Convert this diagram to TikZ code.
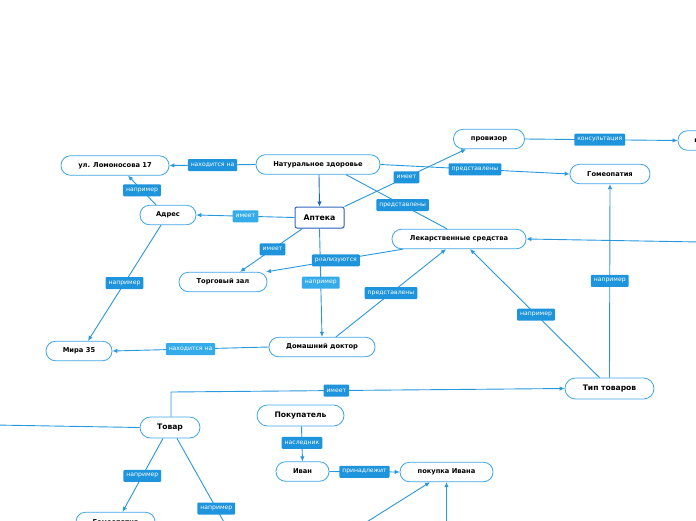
\documentclass[tikz,border=0pt]{standalone}
\usepackage{fontspec}
\setmainfont{DejaVu Sans}
\usetikzlibrary{arrows.meta,shadows}
\definecolor{nodeblue}{RGB}{64,166,230}
\definecolor{lineblue}{RGB}{40,152,222}
\definecolor{lblblue}{RGB}{30,148,220}
\definecolor{lbllight}{RGB}{52,172,234}
\definecolor{aptblue}{RGB}{52,104,190}
\definecolor{darkarrow}{RGB}{30,100,200}
\tikzset{
 box/.style={draw=nodeblue, line width=0.8pt, fill=white, rounded corners=9.5pt, minimum height=19.5pt, inner sep=1pt, font=\bfseries\fontsize{6.7}{8}\selectfont, text=black},
 bigbox/.style={box, font=\bfseries\fontsize{7.6}{9}\selectfont, minimum height=21pt, rounded corners=10.5pt},
 lbl/.style={fill=lblblue, text=white, font=\fontsize{6.1}{7}\selectfont, rounded corners=1pt, inner xsep=3pt, inner ysep=0pt, minimum height=12pt},
 lbll/.style={lbl, fill=lbllight},
 con/.style={draw=lineblue, line width=0.9pt, -{Latex[length=5pt,width=4.5pt]}},
 conn/.style={draw=lineblue, line width=0.9pt}
}
\begin{document}
\begin{tikzpicture}[x=1pt,y=-1pt]
\useasboundingbox (0,0) rectangle (696,520);
\clip (0,0) rectangle (696,520);
\fill[white] (0,0) rectangle (696,520);
% nodes
\node[box, minimum width=108pt] (lom) at (115,165.5) {ул. Ломоносова 17};
\node[box, minimum width=124pt] (nat) at (318,164.5) {Натуральное здоровье};
\node[box, minimum width=71pt] (prov) at (489,139) {провизор};
\node[box, minimum width=60pt] (kli) at (708,140.5) {клиент};
\node[box, minimum width=80pt] (gom) at (610,174) {Гомеопатия};
\node[box, minimum width=56pt] (adr) at (168,215) {Адрес};
\node[draw=aptblue, line width=1pt, fill=white, rounded corners=2pt, minimum width=49pt, minimum height=21pt, inner sep=1pt, font=\bfseries\fontsize{7.8}{9}\selectfont, drop shadow={opacity=0.25, shadow xshift=0.8pt, shadow yshift=-0.8pt}] (apt) at (319.5,217.5) {Аптека};
\node[box, minimum width=134pt] (lek) at (459,239) {Лекарственные средства};
\node[box, minimum width=88pt] (torg) at (223,282) {Торговый зал};
\node[box, minimum width=106pt] (dom) at (322,347) {Домашний доктор};
\node[box, minimum width=66pt] (mira) at (79,351) {Мира 35};
\node[bigbox, minimum width=89pt] (tip) at (609.5,388.5) {Тип товаров};
\node[bigbox, minimum width=60pt] (tov) at (170,427.5) {Товар};
\node[bigbox, minimum width=87pt] (pok) at (300.5,415.5) {Покупатель};
\node[box, minimum width=53pt] (ivan) at (302.5,471.5) {Иван};
\node[box, minimum width=93pt] (pki) at (446.5,472) {покупка Ивана};
\node[box, minimum width=79pt] (bot) at (115.5,522) {Гомеопатия};
% free ends
\coordinate (rlek) at (700,242);
\coordinate (ltov) at (-5,425);
\coordinate (bend) at (171,392);
\coordinate (btov) at (234,540);
\coordinate (bp1) at (354,530);
\coordinate (bp2) at (446.5,530);
% connectors
\draw[con] (nat.west) -- node[lbl,midway] {находится на} (lom.east);
\draw[draw=darkarrow, line width=0.9pt, -{Latex[length=5pt,width=4.5pt]}] ([xshift=1pt]nat.south) -- (apt.north);
\draw[con] ([xshift=-12pt]adr.north) -- node[lbl,midway] {например} ([xshift=13pt]lom.south);
\draw[con] (apt.west) -- node[lbll,midway] {имеет} (adr.east);
\draw[con] (apt.north east) -- node[lbl,pos=0.51] {имеет} ([xshift=-23pt]prov.south);
\draw[con] (nat.east) -- node[lbl,midway] {представлены} (gom.west);
\draw[conn] ([xshift=28pt]nat.south) -- node[lbl,pos=0.56] {представлены} ([xshift=-12pt]lek.north);
\draw[con] (prov.east) -- node[lbl,pos=0.49] {консультация} (kli.west);
\draw[con] ([xshift=-17pt]apt.south) -- node[lbl,pos=0.48] {имеет} ([xshift=17pt]torg.north);
\draw[con] ([xshift=-56pt]lek.south) -- node[lbl,pos=0.49] {реализуются} ([xshift=43pt]torg.north);
\draw[con] (apt.south) -- node[lbll,midway] {например} (dom.north);
\draw[con] ([xshift=14pt]dom.north) -- node[lbl,midway] {представлены} ([xshift=-13pt]lek.south);
\draw[con] (dom.west) -- node[lbll,midway] {находится на} (mira.east);
\draw[con] ([xshift=-7pt]adr.south) -- node[lbl,midway] {например} ([xshift=9pt]mira.north);
\draw[con] ([xshift=-10pt]tip.north) -- node[lbl,pos=0.49] {например} ([xshift=11pt]lek.south);
\draw[con] (tip.north) -- node[lbl,midway] {например} (gom.south);
\draw[con] (rlek) -- (lek.east);
\draw[con] ([xshift=1pt]tov.north) -- (bend) -- node[lbl,pos=0.42] {имеет} (tip.west);
\draw[conn] (ltov) -- (tov.west);
\draw[con] ([xshift=-7pt]tov.south) -- node[lbl,pos=0.51] {например} ([xshift=7pt]bot.north);
\draw[conn] ([xshift=7pt]tov.south) -- node[lbl,pos=0.69] {например} (btov);
\draw[con] ([xshift=1pt]pok.south) -- node[lbl,pos=0.47] {наследник} (ivan.north);
\draw[con] (ivan.east) -- node[lbl,midway] {принадлежит} (pki.west);
\draw[con] (bp1) -- ([xshift=-16.5pt]pki.south);
\draw[con] (bp2) -- (pki.south);
\end{tikzpicture}
\end{document}
